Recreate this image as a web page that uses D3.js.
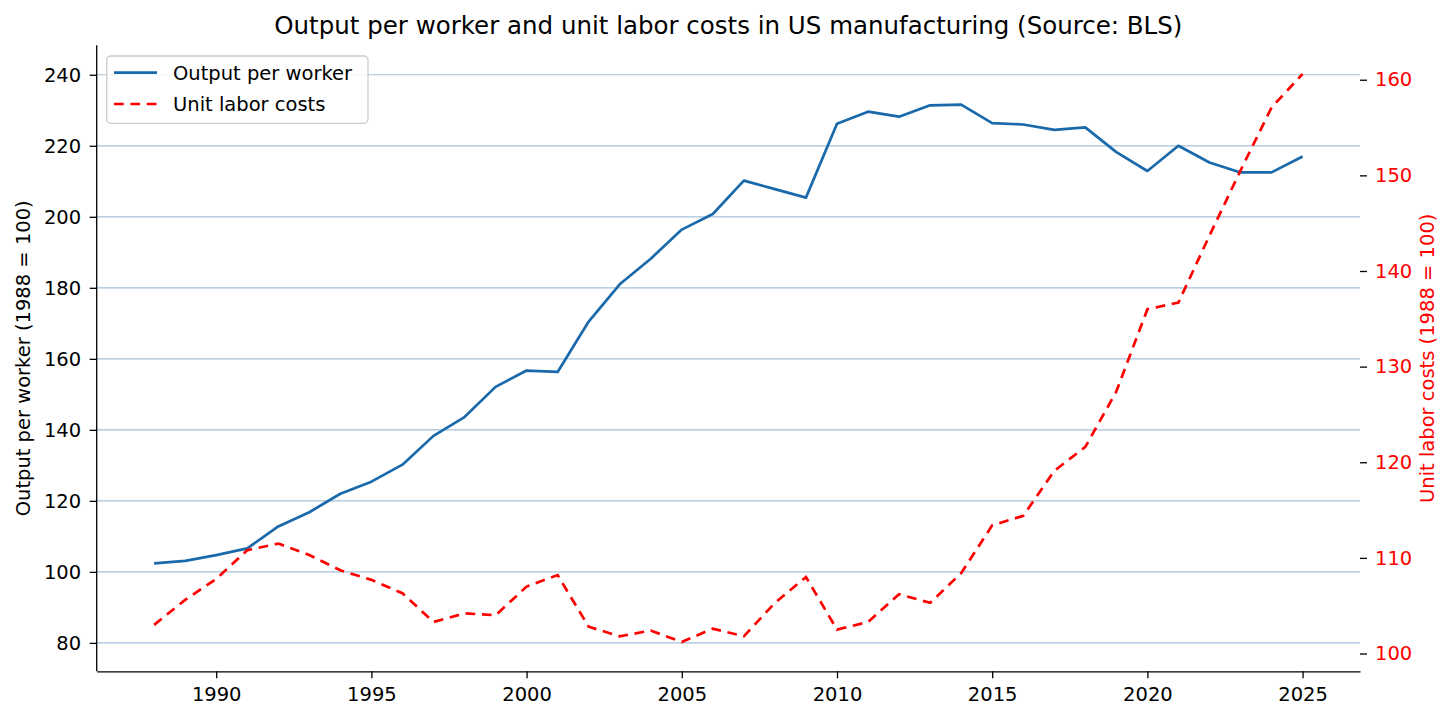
<!DOCTYPE html>
<html>
<head>
<meta charset="utf-8">
<script src="https://cdn.jsdelivr.net/npm/d3@7"></script>
<style>
  body { margin: 0; background: #fff; }
  text { font-family: "DejaVu Sans", sans-serif; }
</style>
</head>
<body>
<div id="chart"></div>
<script>
// data (1988 = 100)
const years = [1988, 1989, 1990, 1991, 1992, 1993, 1994, 1995, 1996, 1997,
    1998, 1999, 2000, 2001, 2002, 2003, 2004, 2005, 2006, 2007,
    2008, 2009, 2010, 2011, 2012, 2013, 2014, 2015, 2016, 2017,
    2018, 2019, 2020, 2021, 2022, 2023, 2024, 2025];

const outputPerWorker = [102.4, 103.1, 104.7, 106.6, 112.8, 116.8, 122.0, 125.4, 130.2, 138.3,
    143.6, 152.1, 156.7, 156.3, 170.5, 181.0, 188.2, 196.4, 200.8, 210.2,
    207.8, 205.4, 226.2, 229.6, 228.2, 231.4, 231.6, 226.4, 226.0, 224.5,
    225.2, 218.2, 212.9, 220.0, 215.3, 212.5, 212.5, 217.0];

const unitLaborCosts = [103.0, 105.6, 107.8, 110.8, 111.5, 110.3, 108.7, 107.7, 106.3, 103.3,
    104.2, 104.0, 107.0, 108.2, 102.8, 101.8, 102.4, 101.2, 102.6, 101.8,
    105.3, 108.0, 102.5, 103.3, 106.2, 105.3, 108.4, 113.4, 114.4, 119.1,
    121.6, 127.4, 136.0, 136.7, 143.7, 150.5, 157.1, 160.6];

const xTicks = [1990, 1995, 2000, 2005, 2010, 2015, 2020, 2025];
const leftTicks = [80, 100, 120, 140, 160, 180, 200, 220, 240];
const rightTicks = [100, 110, 120, 130, 140, 150, 160];

const W = 1456, H = 721;
const plotL = 96.7, plotR = 1360, plotT = 45.3, plotB = 671.3;
const blue = "#1a69aa", red = "#ff0000";

var svg = d3.select("#chart").append("svg")
    .attr("width", W)
    .attr("height", H);

var x = d3.scaleLinear().domain([1986.15, 2026.85]).range([plotL, plotR]);
var yL = d3.scaleLinear().domain([72.0, 248.3]).range([plotB, plotT]);
var yR = d3.scaleLinear().domain([98.14, 163.6]).range([plotB, plotT]);

// horizontal grid from left axis
svg.append("g")
    .selectAll("line")
    .data(leftTicks)
    .enter()
    .append("line")
        .attr("x1", plotL)
        .attr("x2", plotR)
        .attr("y1", d => yL(d))
        .attr("y2", d => yL(d))
        .attr("stroke", "#a4c2d9")
        .attr("stroke-width", 1.2);

// x axis
var gx = svg.append("g")
    .attr("transform", "translate(0," + plotB + ")")
    .call(d3.axisBottom(x).tickValues(xTicks).tickFormat(d3.format("d"))
        .tickSize(7).tickSizeOuter(0).tickPadding(8.4));

// left axis
var gl = svg.append("g")
    .attr("transform", "translate(" + plotL + ",0)")
    .call(d3.axisLeft(yL).tickValues(leftTicks)
        .tickSize(7).tickSizeOuter(0).tickPadding(8.5));

// right axis (no spine)
var gr = svg.append("g")
    .attr("transform", "translate(" + plotR + ",0)")
    .call(d3.axisRight(yR).tickValues(rightTicks)
        .tickSize(7).tickSizeOuter(0).tickPadding(8));
gr.select(".domain").remove();

[gx, gl, gr].forEach(function(g) {
    g.selectAll("text").style("font-size", "19.5px").style("font-family", "DejaVu Sans");
    g.selectAll("line").attr("stroke", "#000").attr("stroke-width", 1.3);
    g.select(".domain").attr("stroke", "#000").attr("stroke-width", 1.3);
});
gr.selectAll("text").attr("fill", red);
gl.select(".domain").attr("d", "M0," + plotT + "V" + plotB);

// lines
var lineL = d3.line().x((d, i) => x(years[i])).y(d => yL(d));
var lineR = d3.line().x((d, i) => x(years[i])).y(d => yR(d));

svg.append("path")
    .datum(outputPerWorker)
    .attr("d", lineL)
    .attr("fill", "none")
    .attr("stroke", blue)
    .attr("stroke-width", 2.7)
    .attr("stroke-linejoin", "round");

svg.append("path")
    .datum(unitLaborCosts)
    .attr("d", lineR)
    .attr("fill", "none")
    .attr("stroke", red)
    .attr("stroke-width", 2.7)
    .attr("stroke-dasharray", "9.7,6.7");

// title and axis labels
svg.append("text")
    .attr("x", (plotL + plotR) / 2)
    .attr("y", 34)
    .attr("text-anchor", "middle")
    .style("font-size", "24.5px")
    .text("Output per worker and unit labor costs in US manufacturing (Source: BLS)");

svg.append("text")
    .attr("text-anchor", "middle")
    .attr("transform", "translate(30," + ((plotT + plotB) / 2) + ") rotate(-90)")
    .style("font-size", "19.5px")
    .text("Output per worker (1988 = 100)");

svg.append("text")
    .attr("text-anchor", "middle")
    .attr("transform", "translate(1434," + ((plotT + plotB) / 2) + ") rotate(-90)")
    .attr("fill", red)
    .style("font-size", "19.5px")
    .text("Unit labor costs (1988 = 100)");

// legend
var legendItems = [
    {name: "Output per worker", color: blue, dash: null},
    {name: "Unit labor costs", color: red, dash: "9.7,6.7"}
];
var lg = svg.append("g");
lg.append("rect")
    .attr("x", 106.7)
    .attr("y", 56)
    .attr("width", 261.3)
    .attr("height", 67.3)
    .attr("rx", 4)
    .attr("fill", "rgba(255,255,255,0.8)")
    .attr("stroke", "#cccccc")
    .attr("stroke-width", 1.3);
legendItems.forEach(function(d, i) {
    var ly = 72.7 + i * 31.3;
    lg.append("line")
        .attr("x1", 114).attr("x2", 157)
        .attr("y1", ly).attr("y2", ly)
        .attr("stroke", d.color)
        .attr("stroke-width", 2.7)
        .attr("stroke-dasharray", d.dash);
    lg.append("text")
        .attr("x", 173)
        .attr("y", ly)
        .attr("dy", "0.35em")
        .style("font-size", "19.5px")
        .text(d.name);
});
</script>
</body>
</html>
